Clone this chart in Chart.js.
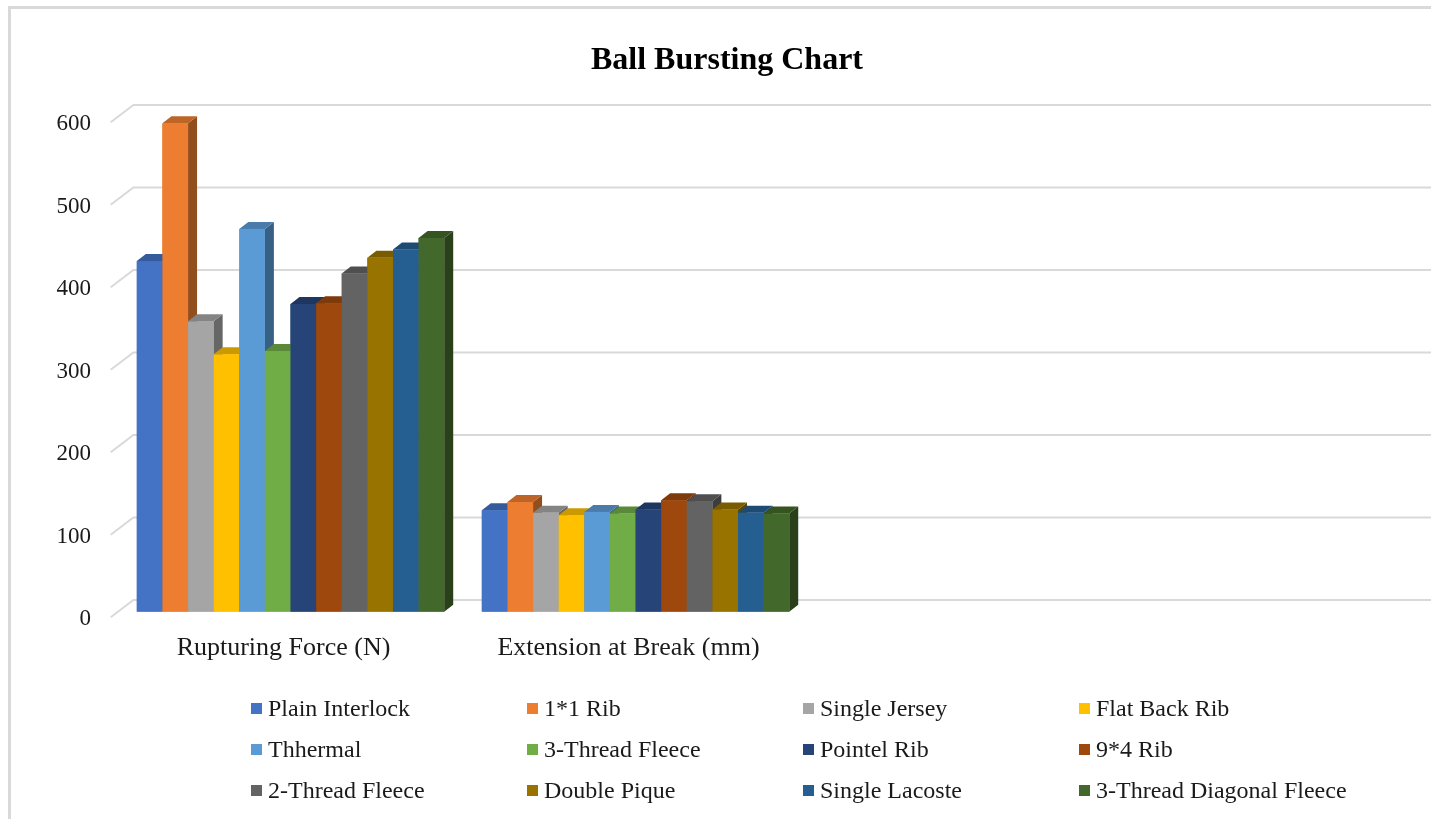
<!DOCTYPE html>
<html>
<head>
<meta charset="utf-8">
<script src="https://cdn.jsdelivr.net/npm/chart.js@4.4.1/dist/chart.umd.min.js"></script>
<style>
    body { margin: 0; background: #fff; }
    #wrap { position: relative; width: 1431px; height: 819px; overflow: hidden; }
    #frame {
        position: absolute; left: 8px; top: 6px; width: 1440px; height: 830px;
        border-left: 3px solid #d9d9d9; border-top: 3px solid #d9d9d9;
    }
    #chart { position: absolute; left: 0; top: 0; }
    #title {
        position: absolute; left: 527px; width: 400px; top: 39px; text-align: center;
        font-family: "Liberation Serif", "Times New Roman", serif; font-size: 32px; font-weight: bold;
        color: #000; line-height: 38px;
    }
    #legend {
        position: absolute; left: 251px; top: 688px;
        display: grid; grid-template-columns: repeat(4, 276px); grid-auto-rows: 41px;
        font-family: "Liberation Serif", "Times New Roman", serif; font-size: 24px; color: #1a1a1a;
    }
    #legend .item { display: flex; align-items: center; white-space: nowrap; }
    #legend .box { width: 11px; height: 11px; margin-right: 6px; flex: none; }
</style>
</head>
<body>
<div id="wrap">
    <div id="frame"></div>
    <canvas id="chart" width="1431" height="819"></canvas>
    <div id="title">Ball Bursting Chart</div>
    <div id="legend"></div>
</div>
<script>
const categories = ["Rupturing Force (N)", "Extension at Break (mm)"];
const fabrics = [
    "Plain Interlock", "1*1 Rib", "Single Jersey", "Flat Back Rib",
    "Thhermal", "3-Thread Fleece", "Pointel Rib", "9*4 Rib",
    "2-Thread Fleece", "Double Pique", "Single Lacoste", "3-Thread Diagonal Fleece",
];
const rupturingForce = [425, 592, 352, 312, 464, 316, 373, 374, 410, 429, 439, 453];
const extensionAtBreak = [123, 133, 120, 117, 121, 119, 124, 135, 134, 124, 120, 119];
const yTicks = [0, 100, 200, 300, 400, 500, 600];
const colors = [
    "#4472C4", "#ED7D31", "#A5A5A5", "#FFC000",
    "#5B9BD5", "#70AD47", "#264478", "#9E480E",
    "#636363", "#997300", "#255E91", "#43682B",
];

const serif = "'Liberation Serif', 'Times New Roman', serif";

// 3D look: bar depth and back wall offsets (px)
const depth = { dx: 9, dy: -7 };
const wall = { dx: 15.4, dy: -11.7 };
const front = { dx: -7.3, dy: 5.6 };

const shade = (hex, f) => {
    const n = parseInt(hex.slice(1), 16);
    const r = Math.round(((n >> 16) & 255) * f);
    const g = Math.round(((n >> 8) & 255) * f);
    const b = Math.round((n & 255) * f);
    return `rgb(${r},${g},${b})`;
};

const wallPlugin = {
    id: "wall",
    beforeDatasetsDraw(chart) {
        const { ctx, chartArea, scales } = chart;
        ctx.save();
        ctx.strokeStyle = "#d9d9d9";
        ctx.lineWidth = 2;
        yTicks.forEach((v) => {
            const y = scales.y.getPixelForValue(v);
            const x0 = chartArea.left;
            ctx.beginPath();
            ctx.moveTo(x0 + front.dx, y + front.dy);
            ctx.lineTo(x0 + wall.dx, y + wall.dy);
            ctx.lineTo(chart.width, y + wall.dy);
            ctx.stroke();
        });
        ctx.restore();
    },
};

const boxPlugin = {
    id: "box3d",
    afterDatasetsDraw(chart) {
        const { ctx } = chart;
        ctx.save();
        categories.forEach((_, j) => {
            chart.data.datasets.forEach((ds, i) => {
                const bar = chart.getDatasetMeta(i).data[j];
                if (!bar) return;
                const { x, y, base, width } = bar.getProps(["x", "y", "base", "width"], true);
                const l = x - width / 2;
                const r = x + width / 2;
                const c = colors[i];
                // side
                ctx.fillStyle = shade(c, 0.62);
                ctx.beginPath();
                ctx.moveTo(r, y);
                ctx.lineTo(r + depth.dx, y + depth.dy);
                ctx.lineTo(r + depth.dx, base + depth.dy);
                ctx.lineTo(r, base);
                ctx.closePath();
                ctx.fill();
                // top
                ctx.fillStyle = shade(c, 0.8);
                ctx.beginPath();
                ctx.moveTo(l, y);
                ctx.lineTo(l + depth.dx, y + depth.dy);
                ctx.lineTo(r + depth.dx, y + depth.dy);
                ctx.lineTo(r, y);
                ctx.closePath();
                ctx.fill();
                // front
                ctx.fillStyle = c;
                ctx.fillRect(l, y, width, base - y);
            });
        });
        ctx.restore();
    },
};

const datasets = fabrics.map((name, i) => ({
    label: name,
    data: [
        { x: 0, y: rupturingForce[i] },
        { x: 1, y: extensionAtBreak[i] },
    ],
    backgroundColor: colors[i],
    borderWidth: 0,
    barPercentage: 1,
    categoryPercentage: 0.891,
}));

new Chart(document.getElementById("chart"), {
    type: "bar",
    data: { datasets },
    options: {
        responsive: false,
        animation: false,
        layout: { padding: { left: 0, right: 15.4, top: 116.7, bottom: 0 } },
        scales: {
            x: {
                type: "linear",
                offset: false,
                min: -0.5,
                max: 3.261,
                grid: { display: false, drawTicks: false, offset: false },
                border: { display: false },
                afterBuildTicks: (axis) => {
                    axis.ticks = categories.map((_, i) => ({ value: i }));
                },
                afterFit: (axis) => { axis.height = 207.3; },
                ticks: {
                    autoSkip: false,
                    maxRotation: 0,
                    padding: 21,
                    labelOffset: -7,
                    color: "#1a1a1a",
                    font: { family: serif, size: 26 },
                    callback: (v) => categories[v] ?? "",
                },
            },
            y: {
                min: 0,
                max: 600,
                grid: { display: false, drawTicks: false },
                border: { display: false },
                afterFit: (axis) => { axis.width = 118; },
                afterBuildTicks: (axis) => {
                    axis.ticks = yTicks.map((v) => ({ value: v }));
                },
                ticks: {
                    padding: 27,
                    labelOffset: 7.5,
                    color: "#1a1a1a",
                    font: { family: serif, size: 23 },
                },
            },
        },
        plugins: {
            legend: { display: false },
            tooltip: { enabled: false },
        },
    },
    plugins: [wallPlugin, boxPlugin],
});

const legend = document.getElementById("legend");
fabrics.forEach((name, i) => {
    const item = document.createElement("div");
    item.className = "item";
    const box = document.createElement("span");
    box.className = "box";
    box.style.background = colors[i];
    const text = document.createElement("span");
    text.textContent = name;
    item.append(box, text);
    legend.append(item);
});
</script>
</body>
</html>
